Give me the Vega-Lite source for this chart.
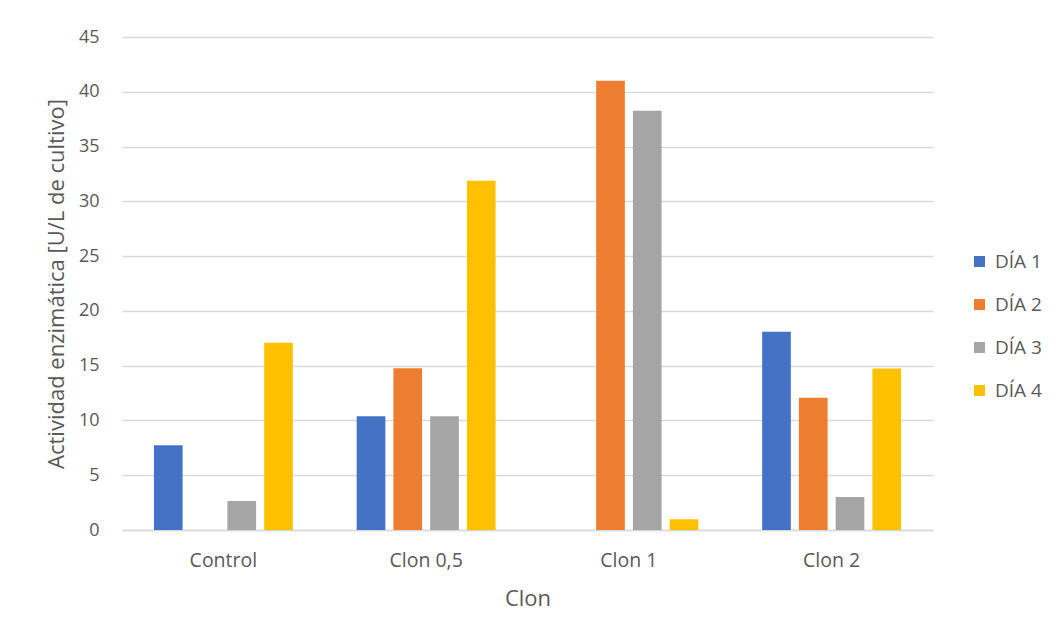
{
  "$schema": "https://vega.github.io/schema/vega-lite/v6.json",
  "autosize": {"type": "none"},
  "padding": {"left": 122, "top": 37, "right": 119, "bottom": 105},
  "width": 811,
  "height": 493,
  "background": "white",
  "data": {
    "values": [
      {"clon": "Control", "dia": "DÍA 1", "valor": 7.74},
      {"clon": "Control", "dia": "DÍA 2", "valor": 0},
      {"clon": "Control", "dia": "DÍA 3", "valor": 2.65},
      {"clon": "Control", "dia": "DÍA 4", "valor": 17.1},
      {"clon": "Clon 0,5", "dia": "DÍA 1", "valor": 10.38},
      {"clon": "Clon 0,5", "dia": "DÍA 2", "valor": 14.76},
      {"clon": "Clon 0,5", "dia": "DÍA 3", "valor": 10.38},
      {"clon": "Clon 0,5", "dia": "DÍA 4", "valor": 31.87},
      {"clon": "Clon 1", "dia": "DÍA 1", "valor": 0},
      {"clon": "Clon 1", "dia": "DÍA 2", "valor": 41.0},
      {"clon": "Clon 1", "dia": "DÍA 3", "valor": 38.26},
      {"clon": "Clon 1", "dia": "DÍA 4", "valor": 0.98},
      {"clon": "Clon 2", "dia": "DÍA 1", "valor": 18.1},
      {"clon": "Clon 2", "dia": "DÍA 2", "valor": 12.08},
      {"clon": "Clon 2", "dia": "DÍA 3", "valor": 3.01},
      {"clon": "Clon 2", "dia": "DÍA 4", "valor": 14.73}
    ]
  },
  "mark": {"type": "bar"},
  "encoding": {
    "x": {
      "field": "clon",
      "type": "nominal",
      "sort": ["Control", "Clon 0,5", "Clon 1", "Clon 2"],
      "title": "Clon",
      "scale": {"paddingInner": 0.315, "paddingOuter": 0.1575},
      "axis": {
        "labelAngle": 0,
        "ticks": false,
        "domainColor": "#D9D9D9",
        "domainWidth": 1.3,
        "labelPadding": 21,
        "labelFontSize": 19.5,
        "titleFontSize": 22,
        "titlePadding": 19,
        "titleFontWeight": "normal"
      }
    },
    "xOffset": {
      "field": "dia",
      "type": "nominal",
      "scale": {"paddingInner": 0.22, "paddingOuter": 0}
    },
    "y": {
      "field": "valor",
      "type": "quantitative",
      "title": "Actividad enzimática [U/L de cultivo]",
      "scale": {"domain": [0, 45], "nice": false},
      "axis": {
        "values": [0, 5, 10, 15, 20, 25, 30, 35, 40, 45],
        "ticks": false,
        "domain": false,
        "gridColor": "#D9D9D9",
        "gridWidth": 1.3,
        "labelPadding": 23,
        "labelFontSize": 18,
        "titleFontSize": 22,
        "titlePadding": 10,
        "titleFontWeight": "normal"
      }
    },
    "color": {
      "field": "dia",
      "type": "nominal",
      "title": null,
      "scale": {
        "domain": ["DÍA 1", "DÍA 2", "DÍA 3", "DÍA 4"],
        "range": ["#4472C4", "#ED7D31", "#A5A5A5", "#FFC000"]
      },
      "legend": {
        "orient": "none",
        "legendX": 848,
        "legendY": 215,
        "symbolType": "square",
        "symbolSize": 120,
        "symbolStrokeWidth": 0,
        "labelFontSize": 19,
        "rowPadding": 23,
        "labelOffset": 6
      }
    }
  },
  "config": {
    "font": "Open Sans",
    "view": {"stroke": null},
    "axis": {"labelColor": "#595959", "titleColor": "#595959", "labelFont": "Open Sans", "titleFont": "Open Sans"},
    "legend": {"labelColor": "#595959", "labelFont": "Open Sans"}
  }
}
